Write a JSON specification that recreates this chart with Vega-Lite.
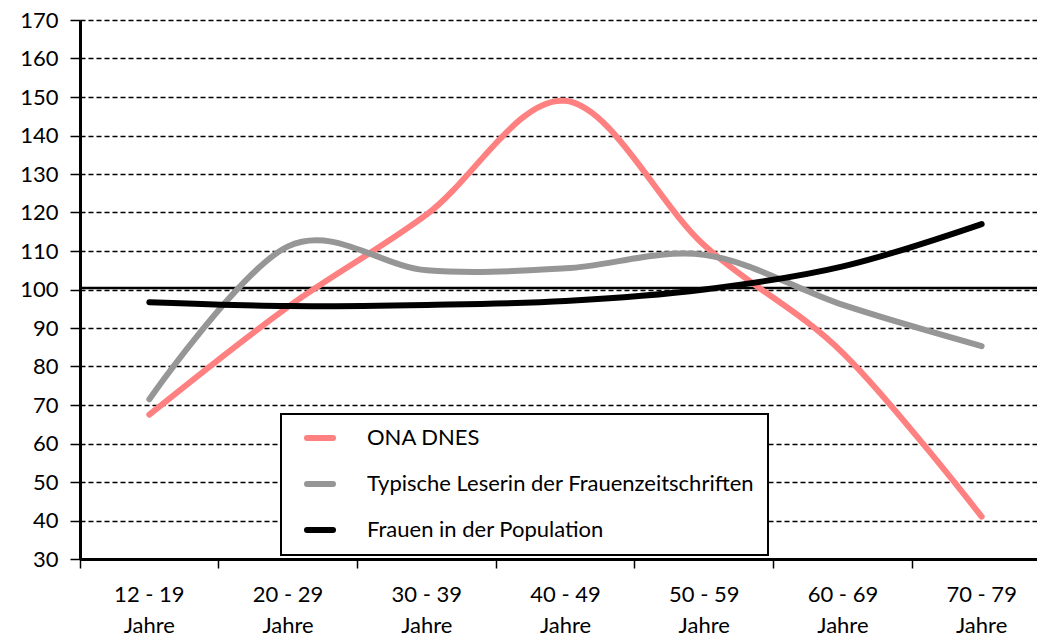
{
  "$schema": "https://vega.github.io/schema/vega-lite/v6.json",
  "autosize": "none",
  "padding": {"left": 80, "top": 20, "right": 0, "bottom": 80},
  "width": 957,
  "height": 539,
  "background": "white",
  "config": {
    "view": {"stroke": null},
    "font": "Lato",
    "axisY": {
      "labelOverlap": false,
      "labelFontSize": 22,
      "labelColor": "black",
      "labelPadding": 12,
      "domainColor": "black",
      "domainWidth": 3,
      "tickColor": "black",
      "tickWidth": 1.5,
      "tickSize": 10,
      "grid": true,
      "gridColor": "black",
      "gridDash": [5, 3],
      "gridWidth": 1.3,
      "gridOpacity": 1
    }
  },
  "datasets": {
    "series": [
      {"age": "12 - 19 Jahre", "series": "ONA DNES", "value": 67.5},
      {"age": "20 - 29 Jahre", "series": "ONA DNES", "value": 95.5},
      {"age": "30 - 39 Jahre", "series": "ONA DNES", "value": 119.5},
      {"age": "40 - 49 Jahre", "series": "ONA DNES", "value": 149},
      {"age": "50 - 59 Jahre", "series": "ONA DNES", "value": 111.5},
      {"age": "60 - 69 Jahre", "series": "ONA DNES", "value": 83.5},
      {"age": "70 - 79 Jahre", "series": "ONA DNES", "value": 41},
      {"age": "12 - 19 Jahre", "series": "Typische Leserin der Frauenzeitschriften", "value": 71.5},
      {"age": "20 - 29 Jahre", "series": "Typische Leserin der Frauenzeitschriften", "value": 111.2},
      {"age": "30 - 39 Jahre", "series": "Typische Leserin der Frauenzeitschriften", "value": 105},
      {"age": "40 - 49 Jahre", "series": "Typische Leserin der Frauenzeitschriften", "value": 105.5},
      {"age": "50 - 59 Jahre", "series": "Typische Leserin der Frauenzeitschriften", "value": 109},
      {"age": "60 - 69 Jahre", "series": "Typische Leserin der Frauenzeitschriften", "value": 96},
      {"age": "70 - 79 Jahre", "series": "Typische Leserin der Frauenzeitschriften", "value": 85.3},
      {"age": "12 - 19 Jahre", "series": "Frauen in der Population", "value": 96.7},
      {"age": "20 - 29 Jahre", "series": "Frauen in der Population", "value": 95.7},
      {"age": "30 - 39 Jahre", "series": "Frauen in der Population", "value": 96},
      {"age": "40 - 49 Jahre", "series": "Frauen in der Population", "value": 97},
      {"age": "50 - 59 Jahre", "series": "Frauen in der Population", "value": 100},
      {"age": "60 - 69 Jahre", "series": "Frauen in der Population", "value": 106},
      {"age": "70 - 79 Jahre", "series": "Frauen in der Population", "value": 117}
    ],
    "ref": [{"value": 100.4}]
  },
  "layer": [
    {
      "data": {"name": "ref"},
      "mark": {"type": "rule", "color": "black", "strokeWidth": 2.5},
      "encoding": {
        "y": {
          "field": "value", "type": "quantitative",
          "scale": {"domain": [30, 170], "nice": false},
          "axis": {"title": null, "values": [30, 40, 50, 60, 70, 80, 90, 100, 110, 120, 130, 140, 150, 160, 170]}
        }
      }
    },
    {
      "data": {"name": "series"},
      "mark": {"type": "line", "strokeWidth": 6, "strokeCap": "round", "interpolate": "cardinal"},
      "encoding": {
        "x": {
          "field": "age", "type": "nominal", "bandPosition": 0.5,
          "scale": {"type": "band", "range": [0, 971], "paddingInner": 0, "paddingOuter": 0},
          "axis": {
            "title": null,
            "bandPosition": 0,
            "labelAngle": 0,
            "labelExpr": "[replace(datum.label, ' Jahre', ''), 'Jahre']",
            "labelLineHeight": 31,
            "labelFontSize": 22,
            "labelColor": "black",
            "labelPadding": 16,
            "domainColor": "black",
            "domainWidth": 3,
            "tickColor": "black",
            "tickWidth": 1.5,
            "tickSize": 9,
            "grid": false
          }
        },
        "y": {
          "field": "value", "type": "quantitative",
          "scale": {"domain": [30, 170], "nice": false},
          "axis": {"title": null, "values": [30, 40, 50, 60, 70, 80, 90, 100, 110, 120, 130, 140, 150, 160, 170]}
        },
        "color": {
          "field": "series", "type": "nominal",
          "scale": {
            "domain": ["ONA DNES", "Typische Leserin der Frauenzeitschriften", "Frauen in der Population"],
            "range": ["#FF8080", "#969696", "#000000"]
          },
          "legend": {
            "title": null,
            "orient": "none",
            "legendX": 201,
            "legendY": 394,
            "strokeColor": "black",
            "fillColor": "white",
            "padding": 13,
            "symbolType": "M-2,0H2",
            "symbolSize": 169,
            "symbolStrokeWidth": 6,
            "symbolOffset": 15,
            "labelFontSize": 22,
            "labelColor": "black",
            "labelOffset": 36,
            "rowPadding": 22,
            "labelLimit": 600,
            "encode": {"legend": {"update": {"strokeWidth": {"value": 2}}}, "symbols": {"update": {"strokeCap": {"value": "round"}}}}
          }
        }
      }
    }
  ]
}
